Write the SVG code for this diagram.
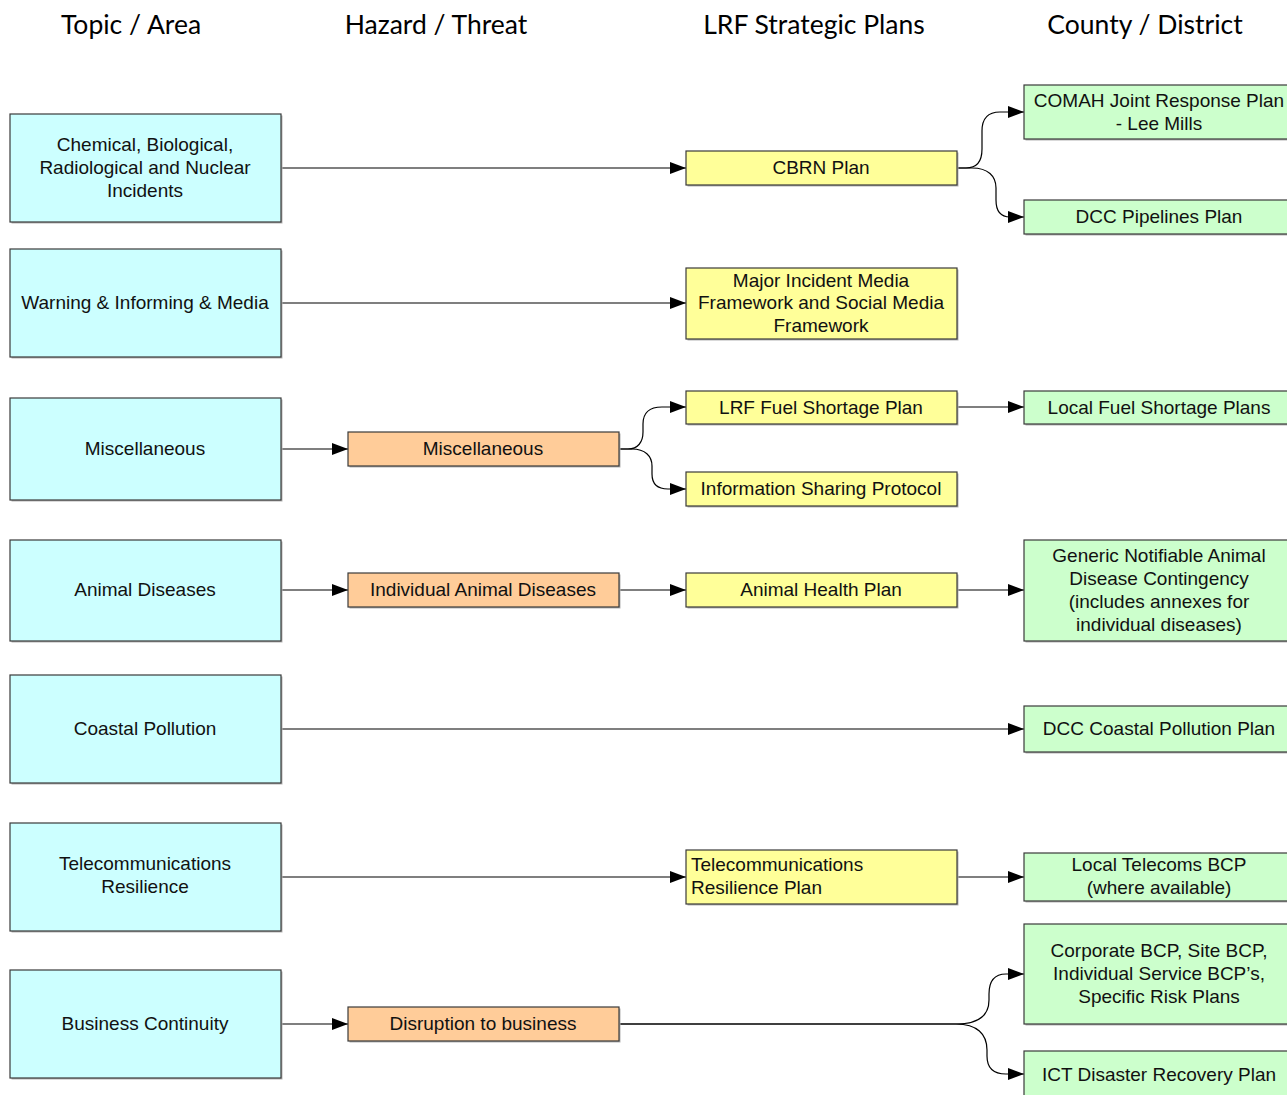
<svg xmlns="http://www.w3.org/2000/svg" width="1287" height="1095" viewBox="0 0 1287 1095">
  <defs>
    <marker id="arrow" markerUnits="userSpaceOnUse" markerWidth="16" markerHeight="14" refX="16" refY="7" orient="auto">
      <path d="M0,1 L16,7 L0,13 Z" fill="#000"/>
    </marker>
    <style>
      .hdr { font-family: "Lato", "Open Sans", sans-serif; font-size: 26.5px; fill: #000; text-anchor: middle; }
      .lbl { font-family: "Liberation Sans", Arial, sans-serif; font-size: 19px; fill: #111; text-anchor: middle; }
      .lbl-left { text-anchor: start; }
      .shadow { fill: #b4b4b4; }
      .box { stroke: #3a3a3a; stroke-width: 1.2; }
      .topic { fill: #ccffff; }
      .hazard { fill: #ffcc99; }
      .plan { fill: #ffff99; }
      .local { fill: #ccffcc; }
      .conn { fill: none; stroke: #000; stroke-width: 1.2; marker-end: url(#arrow); }
    </style>
  </defs>

  <rect width="1287" height="1095" fill="#fff"/>

  <!-- column headings -->
  <g id="headers">
    <text class="hdr" x="131" y="34">Topic / Area</text>
    <text class="hdr" x="436" y="34">Hazard / Threat</text>
    <text class="hdr" x="814" y="34">LRF Strategic Plans</text>
    <text class="hdr" x="1145" y="34">County / District</text>
  </g>

  <!-- connectors -->
  <g id="connectors">
    <path class="conn" d="M281,168 H686"/>
    <path class="conn" d="M957,168 H966 C977,168 982,161 982,149 V131 C982,119 988,112 1000,112 H1024"/>
    <path class="conn" d="M957,168 H972 C988,168 996,176 996,188 V200 C996,211 1001,217 1010,217 H1024"/>
    <path class="conn" d="M281,303 H686"/>
    <path class="conn" d="M281,449 H348"/>
    <path class="conn" d="M619,449 H628 C638,449 643,442 643,432 V424 C643,413 649,407 662,407 H686"/>
    <path class="conn" d="M619,449 H632 C645,449 652,456 652,466 V474 C652,484 657,489 668,489 H686"/>
    <path class="conn" d="M957,407 H1024"/>
    <path class="conn" d="M281,590 H348"/>
    <path class="conn" d="M619,590 H686"/>
    <path class="conn" d="M957,590 H1024"/>
    <path class="conn" d="M281,729 H1024"/>
    <path class="conn" d="M281,877 H686"/>
    <path class="conn" d="M957,877 H1024"/>
    <path class="conn" d="M281,1024 H348"/>
    <path class="conn" d="M619,1024 H956 C979,1024 989,1015 989,1000 V994 C989,981 994,974 1006,974 H1024"/>
    <path class="conn" d="M619,1024 H956 C977,1024 987,1034 987,1050 V1056 C987,1068 993,1074 1006,1074 H1024"/>
  </g>

  <!-- Topic / Area -->
  <g id="topic-cbrn">
    <rect class="shadow" x="11.5" y="115.5" width="271" height="108"/>
    <rect class="box topic" x="10" y="114" width="271" height="108"/>
    <text class="lbl" x="145" y="151">Chemical, Biological,</text>
    <text class="lbl" x="145" y="174">Radiological and Nuclear</text>
    <text class="lbl" x="145" y="197">Incidents</text>
  </g>
  <g id="topic-warning">
    <rect class="shadow" x="11.5" y="250.5" width="271" height="108"/>
    <rect class="box topic" x="10" y="249" width="271" height="108"/>
    <text class="lbl" x="145" y="309">Warning &amp; Informing &amp; Media</text>
  </g>
  <g id="topic-misc">
    <rect class="shadow" x="11.5" y="399.5" width="271" height="102"/>
    <rect class="box topic" x="10" y="398" width="271" height="102"/>
    <text class="lbl" x="145" y="455">Miscellaneous</text>
  </g>
  <g id="topic-animal">
    <rect class="shadow" x="11.5" y="541.5" width="271" height="101"/>
    <rect class="box topic" x="10" y="540" width="271" height="101"/>
    <text class="lbl" x="145" y="596">Animal Diseases</text>
  </g>
  <g id="topic-coastal">
    <rect class="shadow" x="11.5" y="676.5" width="271" height="108"/>
    <rect class="box topic" x="10" y="675" width="271" height="108"/>
    <text class="lbl" x="145" y="735">Coastal Pollution</text>
  </g>
  <g id="topic-telecoms">
    <rect class="shadow" x="11.5" y="824.5" width="271" height="108"/>
    <rect class="box topic" x="10" y="823" width="271" height="108"/>
    <text class="lbl" x="145" y="870">Telecommunications</text>
    <text class="lbl" x="145" y="893">Resilience</text>
  </g>
  <g id="topic-business">
    <rect class="shadow" x="11.5" y="971.5" width="271" height="108"/>
    <rect class="box topic" x="10" y="970" width="271" height="108"/>
    <text class="lbl" x="145" y="1030">Business Continuity</text>
  </g>

  <!-- Hazard / Threat -->
  <g id="hazard-misc">
    <rect class="shadow" x="349.5" y="433.5" width="271" height="34"/>
    <rect class="box hazard" x="348" y="432" width="271" height="34"/>
    <text class="lbl" x="483" y="455">Miscellaneous</text>
  </g>
  <g id="hazard-animal">
    <rect class="shadow" x="349.5" y="574.5" width="271" height="34"/>
    <rect class="box hazard" x="348" y="573" width="271" height="34"/>
    <text class="lbl" x="483" y="596">Individual Animal Diseases</text>
  </g>
  <g id="hazard-business">
    <rect class="shadow" x="349.5" y="1008.5" width="271" height="34"/>
    <rect class="box hazard" x="348" y="1007" width="271" height="34"/>
    <text class="lbl" x="483" y="1030">Disruption to business</text>
  </g>

  <!-- LRF Strategic Plans -->
  <g id="plan-cbrn">
    <rect class="shadow" x="687.5" y="152.5" width="271" height="34"/>
    <rect class="box plan" x="686" y="151" width="271" height="34"/>
    <text class="lbl" x="821" y="174">CBRN Plan</text>
  </g>
  <g id="plan-media">
    <rect class="shadow" x="687.5" y="269.5" width="271" height="71"/>
    <rect class="box plan" x="686" y="268" width="271" height="71"/>
    <text class="lbl" x="821" y="287">Major Incident Media</text>
    <text class="lbl" x="821" y="309">Framework and Social Media</text>
    <text class="lbl" x="821" y="332">Framework</text>
  </g>
  <g id="plan-fuel">
    <rect class="shadow" x="687.5" y="392.5" width="271" height="33"/>
    <rect class="box plan" x="686" y="391" width="271" height="33"/>
    <text class="lbl" x="821" y="414">LRF Fuel Shortage Plan</text>
  </g>
  <g id="plan-info">
    <rect class="shadow" x="687.5" y="473.5" width="271" height="34"/>
    <rect class="box plan" x="686" y="472" width="271" height="34"/>
    <text class="lbl" x="821" y="495">Information Sharing Protocol</text>
  </g>
  <g id="plan-animal">
    <rect class="shadow" x="687.5" y="574.5" width="271" height="34"/>
    <rect class="box plan" x="686" y="573" width="271" height="34"/>
    <text class="lbl" x="821" y="596">Animal Health Plan</text>
  </g>
  <g id="plan-telecoms">
    <rect class="shadow" x="687.5" y="851.5" width="271" height="54"/>
    <rect class="box plan" x="686" y="850" width="271" height="54"/>
    <text class="lbl lbl-left" x="691" y="871">Telecommunications</text>
    <text class="lbl lbl-left" x="691" y="894">Resilience Plan</text>
  </g>

  <!-- County / District -->
  <g id="local-comah">
    <rect class="shadow" x="1025.5" y="86.5" width="271" height="54"/>
    <rect class="box local" x="1024" y="85" width="271" height="54"/>
    <text class="lbl" x="1159" y="107">COMAH Joint Response Plan</text>
    <text class="lbl" x="1159" y="130">- Lee Mills</text>
  </g>
  <g id="local-pipelines">
    <rect class="shadow" x="1025.5" y="201.5" width="271" height="34"/>
    <rect class="box local" x="1024" y="200" width="271" height="34"/>
    <text class="lbl" x="1159" y="223">DCC Pipelines Plan</text>
  </g>
  <g id="local-fuel">
    <rect class="shadow" x="1025.5" y="392.5" width="271" height="33"/>
    <rect class="box local" x="1024" y="391" width="271" height="33"/>
    <text class="lbl" x="1159" y="414">Local Fuel Shortage Plans</text>
  </g>
  <g id="local-animal">
    <rect class="shadow" x="1025.5" y="541.5" width="271" height="101"/>
    <rect class="box local" x="1024" y="540" width="271" height="101"/>
    <text class="lbl" x="1159" y="562">Generic Notifiable Animal</text>
    <text class="lbl" x="1159" y="585">Disease Contingency</text>
    <text class="lbl" x="1159" y="608">(includes annexes for</text>
    <text class="lbl" x="1159" y="631">individual diseases)</text>
  </g>
  <g id="local-coastal">
    <rect class="shadow" x="1025.5" y="707.5" width="271" height="46"/>
    <rect class="box local" x="1024" y="706" width="271" height="46"/>
    <text class="lbl" x="1159" y="735">DCC Coastal Pollution Plan</text>
  </g>
  <g id="local-telecoms">
    <rect class="shadow" x="1025.5" y="854.5" width="271" height="48"/>
    <rect class="box local" x="1024" y="853" width="271" height="48"/>
    <text class="lbl" x="1159" y="871">Local Telecoms BCP</text>
    <text class="lbl" x="1159" y="894">(where available)</text>
  </g>
  <g id="local-corporate">
    <rect class="shadow" x="1025.5" y="925.5" width="271" height="100"/>
    <rect class="box local" x="1024" y="924" width="271" height="100"/>
    <text class="lbl" x="1159" y="957">Corporate BCP, Site BCP,</text>
    <text class="lbl" x="1159" y="980">Individual Service BCP’s,</text>
    <text class="lbl" x="1159" y="1003">Specific Risk Plans</text>
  </g>
  <g id="local-ict">
    <rect class="shadow" x="1025.5" y="1052.5" width="271" height="50"/>
    <rect class="box local" x="1024" y="1051" width="271" height="50"/>
    <text class="lbl" x="1159" y="1081">ICT Disaster Recovery Plan</text>
  </g>
</svg>
